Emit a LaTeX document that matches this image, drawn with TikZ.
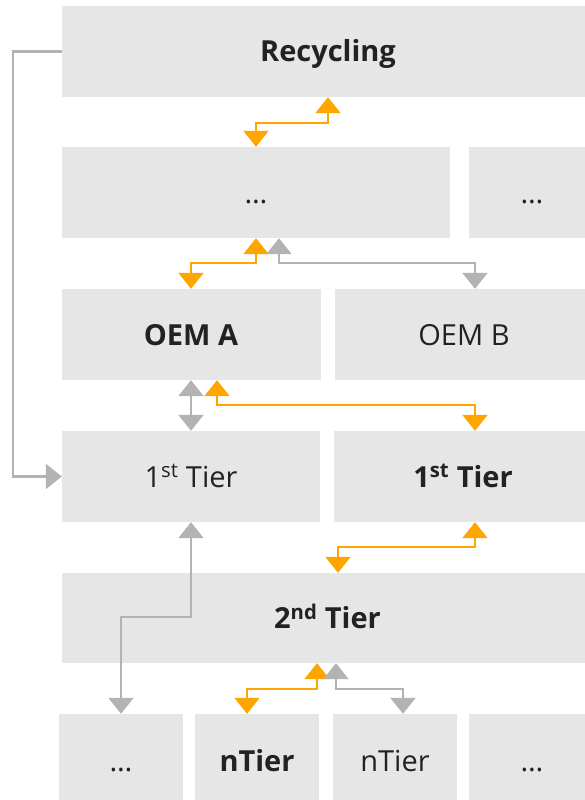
\documentclass[tikz,border=0pt]{standalone}
\usepackage{fontspec}
\setmainfont{Open Sans}
\usetikzlibrary{arrows.meta}

\definecolor{boxgray}{HTML}{E6E6E6}
\definecolor{linkgray}{HTML}{B3B3B3}
\definecolor{linkorange}{HTML}{FFA500}
\definecolor{textdark}{HTML}{222222}

\begin{document}
\begin{tikzpicture}[x=1pt,y=-1pt,
  box/.style={fill=boxgray,text=textdark,inner sep=0pt,minimum height=91pt,
    text height=21pt,text depth=0pt,font=\fontsize{29}{34}\selectfont},
  key/.style={box,font=\fontsize{29}{34}\selectfont\bfseries},
  tip/.tip={Triangle[width=25pt,length=16pt]},
  glink/.style={draw=linkgray,line width=2.3pt,tip-tip},
  olink/.style={draw=linkorange,line width=2.3pt,tip-tip}]
\useasboundingbox (0,0) rectangle (585,800);

% boxes, row by row
\node[key,minimum width=532pt] (rec) at (328,51.5) {Recycling};
\node[box,minimum width=388pt] (dotsA) at (256,192.5) {…};
\node[box,minimum width=126pt] (dotsB) at (532,192.5) {…};
\node[key,minimum width=259pt] (oemA) at (191,334.5) {OEM A};
\node[box,minimum width=258pt] (oemB) at (464,334.5) {OEM B};
\node[box,minimum width=258pt] (tierA) at (191,476.5) {1\textsuperscript{st} Tier};
\node[key,minimum width=258pt] (tierB) at (463,476.5) {1\textsuperscript{st} Tier};
\node[key,minimum width=531pt,minimum height=90pt] (tierC) at (327.5,618) {2\textsuperscript{nd} Tier};
\node[box,minimum width=124pt,minimum height=94pt] (endA) at (121,761) {…};
\node[key,minimum width=124pt,minimum height=94pt] (endB) at (257,761) {nTier};
\node[box,minimum width=124pt,minimum height=94pt] (endC) at (395,761) {nTier};
\node[box,minimum width=126pt,minimum height=94pt] (endD) at (532,761) {…};

% links
\draw[glink,-tip] (rec.west) -- ++(-49,0) |- (tierA.west);
\draw[olink] (rec.south) -- ++(0,26) -| (dotsA.north);
\draw[olink] (dotsA.south) -- ++(0,25) -| (oemA.north);
\draw[glink] ([xshift=23pt]dotsA.south) -- ++(0,25) -| ([xshift=11pt]oemB.north);
\draw[glink] (oemA.south) -- (tierA.north);
\draw[olink] ([xshift=26pt]oemA.south) -- ++(0,25) -| ([xshift=12pt]tierB.north);
\draw[olink] ([xshift=12pt]tierB.south) -- ++(0,25) -| ([xshift=10.5pt]tierC.north);
\draw[glink] (tierA.south) -- ++(0,95) -| (endA.north);
\draw[olink] ([xshift=-10.5pt]tierC.south) -- ++(0,26) -| ([xshift=-10pt]endB.north);
\draw[glink] ([xshift=8.5pt]tierC.south) -- ++(0,26) -| ([xshift=8pt]endC.north);
\end{tikzpicture}
\end{document}
